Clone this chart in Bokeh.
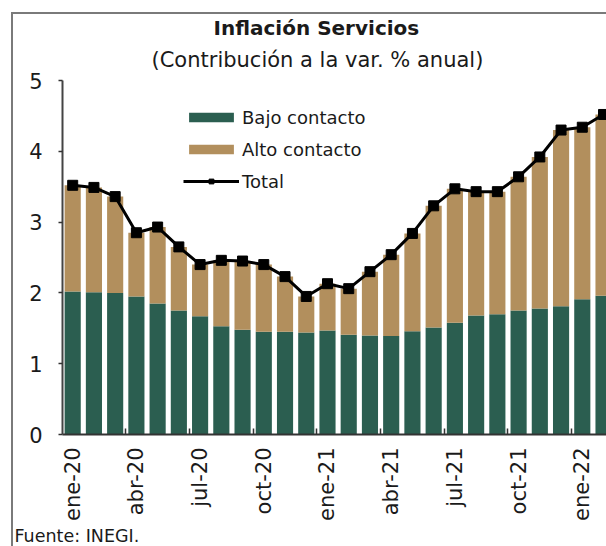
import math
from bokeh.plotting import figure
from bokeh.models import Range1d, FixedTicker, Title, ColumnDataSource
from bokeh.embed import file_html
from bokeh.resources import INLINE

months = ["ene-20", "feb-20", "mar-20", "abr-20", "may-20", "jun-20", "jul-20", "ago-20",
          "sep-20", "oct-20", "nov-20", "dic-20", "ene-21", "feb-21", "mar-21", "abr-21",
          "may-21", "jun-21", "jul-21", "ago-21", "sep-21", "oct-21", "nov-21", "dic-21",
          "ene-22", "feb-22"]
bajo = [2.02, 2.01, 2.00, 1.95, 1.85, 1.75, 1.67, 1.53, 1.48, 1.45, 1.45, 1.44, 1.47,
        1.41, 1.40, 1.39, 1.46, 1.51, 1.58, 1.68, 1.70, 1.75, 1.78, 1.81, 1.91, 1.96]
alto = [1.50, 1.48, 1.36, 0.90, 1.08, 0.90, 0.73, 0.93, 0.97, 0.95, 0.78, 0.51, 0.66,
        0.65, 0.90, 1.15, 1.38, 1.72, 1.89, 1.75, 1.73, 1.89, 2.14, 2.49, 2.43, 2.56]
total = [3.52, 3.49, 3.36, 2.85, 2.93, 2.65, 2.40, 2.46, 2.45, 2.40, 2.23, 1.95, 2.13,
         2.06, 2.30, 2.54, 2.84, 3.23, 3.47, 3.43, 3.43, 3.64, 3.92, 4.30, 4.34, 4.52]
y_ticks = [0, 1, 2, 3, 4, 5]

GREEN = "#2b5e50"
TAN = "#b28f5d"
TXT = "#1a1a1a"
FONT = "DejaVu Sans"

xs = list(range(len(months)))
src = ColumnDataSource(dict(x=xs, bajo=bajo, alto=alto, total=total))

p = figure(width=606, height=546, output_backend="svg", toolbar_location=None,
           x_range=Range1d(-0.48, 25.14), y_range=Range1d(0, 5))
p.title.visible = False
p.min_border = 0
p.min_border_left = 62
p.min_border_right = 0
p.min_border_top = 80
p.min_border_bottom = 112
p.outline_line_color = None
p.grid.visible = False
p.background_fill_color = "white"
p.border_fill_color = None
# outer gray frame (top and left edges) drawn behind the transparent canvas border
p.styles = {"background": "linear-gradient(#7a7a7a, #7a7a7a) 11px 12px / 2px 600px no-repeat, "
                          "linear-gradient(#7a7a7a, #7a7a7a) 11px 12px / 700px 2px no-repeat, "
                          "white"}

p.vbar_stack(["bajo", "alto"], x="x", width=0.76, color=[GREEN, TAN], line_color=None,
             source=src, legend_label=["Bajo contacto", "Alto contacto"])
p.line("x", "total", source=src, line_color="black", line_width=3, legend_label="Total")
p.scatter("x", "total", source=src, marker="square", size=10, fill_color="black",
          line_color="black", legend_label="Total")

# axes
xa = p.xaxis[0]
xa.ticker = FixedTicker(ticks=xs[::3], minor_ticks=[i - 0.5 for i in xs[3::3]])
xa.major_label_overrides = {i: months[i] for i in xs[::3]}
xa.major_label_orientation = math.pi / 2
xa.major_tick_in = 0
xa.major_tick_out = 0
xa.minor_tick_in = 6
xa.minor_tick_out = 0
xa.minor_tick_line_color = "#333333"
xa.minor_tick_line_width = 1.5
xa.axis_line_color = "#333333"
xa.axis_line_width = 2
xa.major_label_standoff = 13
xa.major_label_text_font = FONT
xa.major_label_text_font_size = "21px"
xa.major_label_text_color = TXT

ya = p.yaxis[0]
ya.ticker = FixedTicker(ticks=y_ticks, minor_ticks=[])
ya.major_tick_in = 0
ya.major_tick_out = 4
ya.major_tick_line_color = "#333333"
ya.major_tick_line_width = 1.5
ya.axis_line_color = "#444444"
ya.axis_line_width = 2
ya.major_label_standoff = 16
ya.major_label_text_font = FONT
ya.major_label_text_font_size = "21px"
ya.major_label_text_color = TXT

# legend
lg = p.legend[0]
lg.location = (121, 240)
lg.orientation = "vertical"
lg.border_line_color = None
lg.background_fill_alpha = 0
lg.padding = 0
lg.margin = 0
lg.spacing = 6
lg.glyph_width = 56
lg.glyph_height = 12
lg.label_height = 26
lg.label_standoff = 3
lg.label_text_font = FONT
lg.label_text_font_size = "18px"
lg.label_text_color = TXT

# titles (inner one first) and source note
p.add_layout(Title(text="(Contribución a la var. % anual)", align="left", offset=89,
                   standoff=17, text_font=FONT, text_font_size="21px",
                   text_font_style="normal", text_color=TXT), "above")
p.add_layout(Title(text="Inflación Servicios", align="left", offset=151,
                   standoff=-4, text_font=FONT, text_font_size="20px",
                   text_font_style="bold", text_color=TXT), "above")
p.add_layout(Title(text="Fuente: INEGI.", align="left", offset=-48, standoff=0,
                   text_font=FONT, text_font_size="17.5px", text_font_style="normal",
                   text_color=TXT), "below")

open("out.html", "w").write(file_html(p, INLINE))
